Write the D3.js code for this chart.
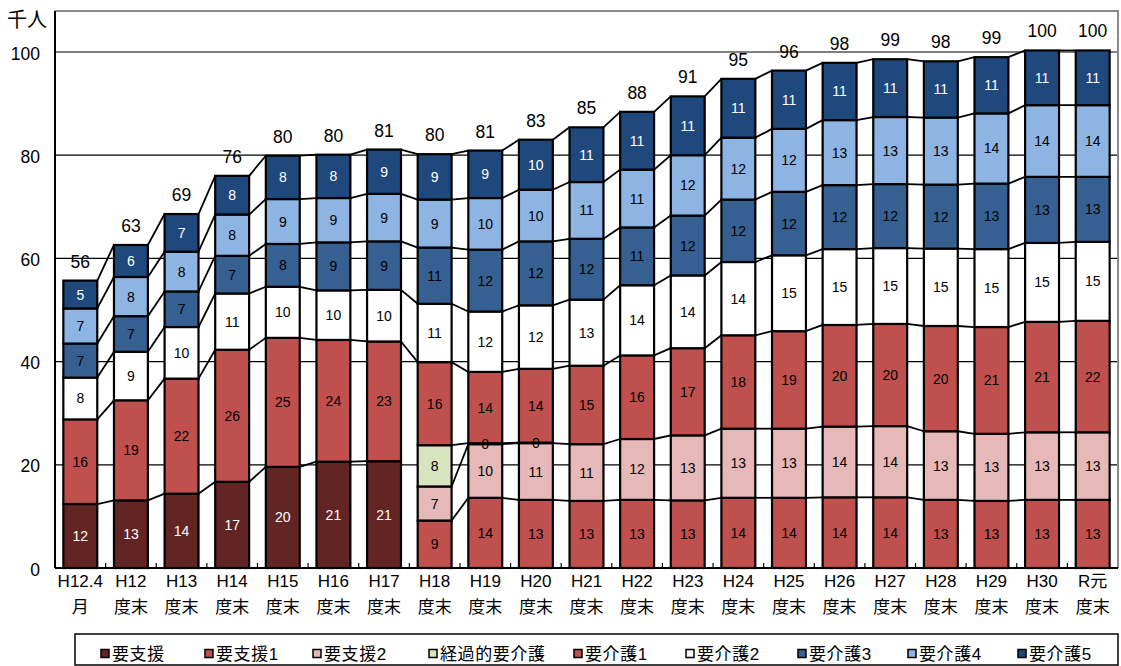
<!DOCTYPE html>
<html>
<head>
<meta charset="utf-8">
<script src="https://cdn.jsdelivr.net/npm/d3@7"></script>
<style>
  body { margin: 0; background: #fff; }
  svg text { font-family: "Liberation Sans", "Noto Sans CJK JP", sans-serif; }
</style>
</head>
<body>
<svg id="chart" width="1121" height="666"></svg>
<script>
// 要介護（要支援）認定者数の推移（千人）
const categories  = ["H12.4", "H12", "H13", "H14", "H15", "H16", "H17", "H18", "H19", "H20", "H21",
                     "H22", "H23", "H24", "H25", "H26", "H27", "H28", "H29", "H30", "R元"];
const categorySub = ["月", "度末", "度末", "度末", "度末", "度末", "度末", "度末", "度末", "度末", "度末",
                     "度末", "度末", "度末", "度末", "度末", "度末", "度末", "度末", "度末", "度末"];

const seriesNames = ["要支援", "要支援1", "要支援2", "経過的要介護", "要介護1", "要介護2", "要介護3", "要介護4", "要介護5"];

const shien   = [12.4, 13.1, 14.4, 16.7, 19.6, 20.6, 20.7, null, null, null, null, null, null, null, null, null, null, null, null, null, null];
const shien1  = [null, null, null, null, null, null, null, 9.2, 13.6, 13.2, 13.0, 13.2, 13.1, 13.6, 13.6, 13.7, 13.7, 13.2, 13.0, 13.2, 13.2];
const shien2  = [null, null, null, null, null, null, null, 6.6, 10.4, 11.0, 11.0, 11.8, 12.6, 13.4, 13.4, 13.7, 13.8, 13.3, 13.0, 13.1, 13.1];
const keika   = [null, null, null, null, null, null, null, 8.0, 0.2, 0.1, null, null, null, null, null, null, null, null, null, null, null];
const kaigo1  = [16.4, 19.4, 22.3, 25.6, 25.0, 23.6, 23.2, 16.1, 13.8, 14.3, 15.2, 16.2, 16.9, 18.1, 18.9, 19.7, 19.8, 20.4, 20.7, 21.4, 21.6];
const kaigo2  = [8.1, 9.4, 10.0, 10.9, 9.9, 9.6, 10.0, 11.3, 11.7, 12.3, 12.8, 13.6, 14.1, 14.2, 14.7, 14.7, 14.7, 15.0, 15.1, 15.3, 15.3];
const kaigo3  = [6.6, 6.9, 6.9, 7.3, 8.3, 9.3, 9.4, 10.9, 12.0, 12.4, 11.8, 11.2, 11.6, 12.1, 12.3, 12.4, 12.4, 12.4, 12.7, 12.8, 12.6];
const kaigo4  = [6.8, 7.6, 7.7, 8.0, 8.7, 8.6, 9.2, 9.3, 10.0, 10.0, 11.0, 11.2, 11.7, 12.0, 12.2, 12.6, 13.0, 13.0, 13.6, 13.9, 13.9];
const kaigo5  = [5.4, 6.2, 7.3, 7.5, 8.4, 8.4, 8.6, 8.8, 9.2, 9.7, 10.6, 11.2, 11.4, 11.4, 11.3, 11.1, 11.2, 10.9, 10.9, 10.6, 10.6];

const yTicks = [0, 20, 40, 60, 80, 100];
const unitLabel = "千人";

// ---- styling ----
const fills     = ["#632523", "#C0504D", "#E6B9B8", "#D7E4BD", "#C0504D", "#FFFFFF", "#376092", "#8EB4E3", "#1F497D"];
const textFills = ["#fff", "#000", "#000", "#000", "#000", "#000", "#000", "#000", "#fff"];

const seriesValues = [shien, shien1, shien2, keika, kaigo1, kaigo2, kaigo3, kaigo4, kaigo5];

const svg = d3.select("#chart");
const plot = { left: 55, right: 1118, top: 11, bottom: 568 };

const x = d3.scaleBand()
  .domain(categories)
  .range([plot.left, plot.right])
  .paddingInner(0.33)
  .paddingOuter(0.165);

const y = d3.scaleLinear()
  .domain([0, 100])
  .range([plot.bottom, 52]);

// stacked rows: one object per category
const rows = categories.map((c, i) => {
  const r = { cat: c };
  seriesNames.forEach((s, k) => { r[s] = seriesValues[k][i]; });
  return r;
});
const stacked = d3.stack()
  .keys(seriesNames)
  .value((d, key) => d[key] == null ? 0 : d[key])(rows);

// gridlines
svg.append("g")
  .selectAll("line")
  .data(yTicks.filter(t => t > 0))
  .join("line")
  .attr("x1", plot.left).attr("x2", plot.right)
  .attr("y1", d => y(d)).attr("y2", d => y(d))
  .attr("stroke", "#000").attr("stroke-width", 1.2);

// plot frame (top / right)
svg.append("path")
  .attr("d", `M${plot.left},${plot.top}H${plot.right}V${plot.bottom}`)
  .attr("fill", "none").attr("stroke", "#8c8c8c").attr("stroke-width", 2);

// series lines joining segment tops of neighbouring bars
const bw = x.bandwidth();
const linkG = svg.append("g");
stacked.forEach((layer, k) => {
  const vals = seriesValues[k];
  for (let i = 0; i < categories.length - 1; i++) {
    if (vals[i] == null || vals[i + 1] == null) continue;
    linkG.append("line")
      .attr("x1", x(categories[i]) + bw)
      .attr("y1", y(layer[i][1]))
      .attr("x2", x(categories[i + 1]))
      .attr("y2", y(layer[i + 1][1]))
      .attr("stroke", "#000").attr("stroke-width", 1.8);
  }
});

// bar segments
const barG = svg.append("g");
stacked.forEach((layer, k) => {
  const vals = seriesValues[k];
  barG.append("g")
    .selectAll("rect")
    .data(layer.map((d, i) => ({ d, i })).filter(o => vals[o.i] != null))
    .join("rect")
    .attr("x", o => x(categories[o.i]))
    .attr("width", bw)
    .attr("y", o => y(o.d[1]))
    .attr("height", o => y(o.d[0]) - y(o.d[1]))
    .attr("fill", fills[k])
    .attr("stroke", "#000")
    .attr("stroke-width", 2.2);
});

// segment value labels
const lblG = svg.append("g");
stacked.forEach((layer, k) => {
  const vals = seriesValues[k];
  lblG.append("g")
    .selectAll("text")
    .data(layer.map((d, i) => ({ d, i })).filter(o => vals[o.i] != null))
    .join("text")
    .attr("x", o => x(categories[o.i]) + bw / 2)
    .attr("y", o => y((o.d[0] + o.d[1]) / 2) + 5)
    .attr("text-anchor", "middle")
    .attr("font-size", 14)
    .attr("fill", textFills[k])
    .text(o => Math.round(vals[o.i]));
});

// totals above bars
svg.append("g")
  .selectAll("text")
  .data(rows)
  .join("text")
  .attr("x", d => x(d.cat) + bw / 2)
  .attr("y", (d, i) => y(stacked[stacked.length - 1][i][1]) - 13)
  .attr("text-anchor", "middle")
  .attr("font-size", 17.5)
  .attr("fill", "#000")
  .text((d, i) => Math.round(d3.sum(seriesValues, s => s[i] || 0)));

// axes
svg.append("line")
  .attr("x1", plot.left).attr("x2", plot.left)
  .attr("y1", plot.top).attr("y2", plot.bottom)
  .attr("stroke", "#000").attr("stroke-width", 2);
svg.append("line")
  .attr("x1", plot.left).attr("x2", plot.right)
  .attr("y1", plot.bottom).attr("y2", plot.bottom)
  .attr("stroke", "#000").attr("stroke-width", 2.2);

// small inner ticks between categories
svg.append("g")
  .selectAll("line")
  .data(categories.slice(1))
  .join("line")
  .attr("x1", d => x(d) - x.step() * x.paddingInner() / 2)
  .attr("x2", d => x(d) - x.step() * x.paddingInner() / 2)
  .attr("y1", plot.bottom).attr("y2", plot.bottom - 5)
  .attr("stroke", "#000").attr("stroke-width", 1.2);

// y tick labels
svg.append("g")
  .selectAll("text")
  .data(yTicks)
  .join("text")
  .attr("x", 40)
  .attr("y", d => y(d) + 7.5)
  .attr("text-anchor", "end")
  .attr("font-size", 17.5)
  .text(d => d);

svg.append("text")
  .attr("x", 7).attr("y", 27)
  .attr("font-size", 20)
  .text(unitLabel);

// category labels (two lines)
const catG = svg.append("g")
  .selectAll("g")
  .data(categories)
  .join("g")
  .attr("transform", d => `translate(${x(d) + bw / 2},0)`);
catG.append("text")
  .attr("y", 587).attr("text-anchor", "middle").attr("font-size", 17)
  .text(d => d);
catG.append("text")
  .attr("y", 613).attr("text-anchor", "middle").attr("font-size", 17)
  .text((d, i) => categorySub[i]);

// legend
svg.append("rect")
  .attr("x", 75).attr("y", 634).attr("width", 1043).attr("height", 31)
  .attr("fill", "#fff").attr("stroke", "#000").attr("stroke-width", 1.5);
const legendX = [100, 204, 312, 428, 573, 685, 797, 907, 1017];
const leg = svg.append("g")
  .selectAll("g")
  .data(seriesNames)
  .join("g")
  .attr("transform", (d, i) => `translate(${legendX[i]},0)`);
leg.append("rect")
  .attr("x", 1).attr("y", 649.5).attr("width", 8).attr("height", 8)
  .attr("fill", (d, i) => fills[i]).attr("stroke", "#000").attr("stroke-width", 1.5);
leg.append("text")
  .attr("x", 12).attr("y", 660)
  .attr("font-size", 17)
  .attr("letter-spacing", 0.6)
  .text(d => d);
</script>
</body>
</html>
